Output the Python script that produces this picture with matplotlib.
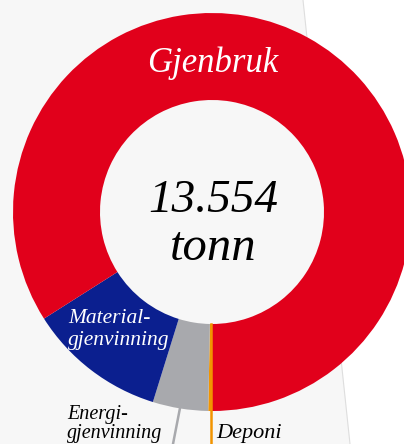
import matplotlib.pyplot as plt
from matplotlib.patches import Polygon

# data (share of 13.554 tonn)
labels = ["Deponi", "Energigjenvinning", "Materialgjenvinning", "Gjenbruk"]
values = [0.3, 4.5, 11.2, 84.0]
colors = ["#f29400", "#a8a9ad", "#0b1f8f", "#e1001b"]
total_text = "13.554"
unit_text = "tonn"

W, H = 404, 444
fig = plt.figure(figsize=(W / 100, H / 100), dpi=100)
fig.patch.set_facecolor("white")
ax = fig.add_axes([0, 0, 1, 1])

# background panel with slanted edge
ax.add_patch(Polygon([(0, H), (303, H), (350, 0), (0, 0)], closed=True,
                     facecolor="#f7f7f7", edgecolor="none", zorder=0))
ax.plot([303, 350], [H, 0], color="#dedede", lw=0.8, zorder=0.5)

cx, cy = 212, H - 212
r_out, r_in = 199, 112

wedges, _ = ax.pie(values, colors=colors, startangle=270, counterclock=False,
                   center=(cx, cy), radius=r_out,
                   wedgeprops=dict(width=r_out - r_in, linewidth=0))
# deponi is a thin line running down past the ring
ax.plot([cx - 1, cx - 1], [cy - r_in, 0], color=colors[0], lw=1.8, zorder=5)
# leader for energigjenvinning
ax.plot([180, 173], [H - 408, 0], color="#a8a9ad", lw=1.8, zorder=5)

ax.set_xlim(0, W)
ax.set_ylim(0, H)
ax.set_aspect("equal")
ax.axis("off")

font = "Liberation Serif"
ax.text(213, H - 72, "Gjenbruk", color="white", fontsize=25, style="italic",
        family=font, ha="center", va="baseline")
ax.text(213, H - 212, total_text, color="black", fontsize=34, style="italic",
        family=font, ha="center", va="baseline")
ax.text(213, H - 260, unit_text, color="black", fontsize=35, style="italic",
        family=font, ha="center", va="baseline")
ax.text(68, H - 323, "Material-", color="white", fontsize=15.5, style="italic",
        family=font, ha="left", va="baseline")
ax.text(68, H - 345, "gjenvinning", color="white", fontsize=15.5, style="italic",
        family=font, ha="left", va="baseline")
ax.text(67, H - 419, "Energi-", color="black", fontsize=14.5, style="italic",
        family=font, ha="left", va="baseline")
ax.text(67, H - 438, "gjenvinning", color="black", fontsize=14.5, style="italic",
        family=font, ha="left", va="baseline")
ax.text(216, H - 438, "Deponi", color="black", fontsize=16, style="italic",
        family=font, ha="left", va="baseline")

fig.savefig("out.png", dpi=100, facecolor=fig.get_facecolor())
